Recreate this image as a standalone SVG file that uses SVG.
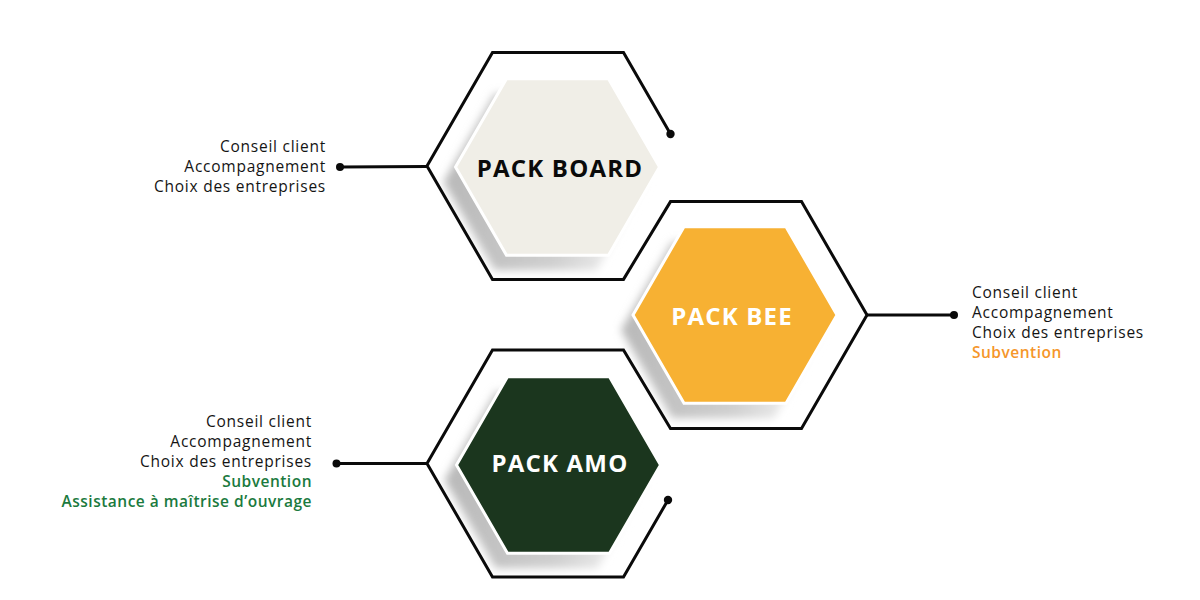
<svg xmlns="http://www.w3.org/2000/svg" width="1200" height="600" viewBox="0 0 1200 600">
  <defs>
    <style>
      .title { font-family: "Open Sans", "Liberation Sans", sans-serif; font-weight: 700; font-size: 24px; letter-spacing: 1.2px; text-anchor: middle; }
      .lbl { font-family: "Open Sans", "Liberation Sans", sans-serif; font-size: 15.5px; letter-spacing: 0.75px; fill: #141414; }
      .r { text-anchor: end; }
      .green { fill: #1b7a3e; font-weight: 600; letter-spacing: 0.5px; }
      .orange { fill: #f5962a; font-weight: 600; letter-spacing: 0.5px; }
      .wire { fill: none; stroke: #0a0a0a; stroke-width: 3; stroke-linejoin: miter; }
      .inner { stroke: #ffffff; stroke-width: 3; }
      .shadow { fill: url(#shadowGrad); filter: url(#blur); }
    </style>
    <linearGradient id="shadowGrad" x1="0" y1="0" x2="1" y2="0">
      <stop offset="0" stop-color="#b8b8b8"/>
      <stop offset="0.55" stop-color="#d0d0d0"/>
      <stop offset="0.92" stop-color="#f6f6f6"/>
    </linearGradient>
    <filter id="blur" x="-20%" y="-20%" width="140%" height="140%">
      <feGaussianBlur stdDeviation="4.5"/>
    </filter>
  </defs>
  <rect width="1200" height="600" fill="#ffffff"/>

  <!-- shadows -->
  <g id="shadows">
    <polygon class="shadow" points="443.5,182 494.5,93.7 596.5,93.7 647.5,182 596.5,270.3 494.5,270.3"/>
    <polygon class="shadow" points="621,330 672,241.7 774,241.7 825,330 774,418.3 672,418.3"/>
    <polygon class="shadow" points="444.5,480 495.5,391.7 597.5,391.7 648.5,480 597.5,568.3 495.5,568.3"/>
  </g>

  <!-- connectors -->
  <g id="connectors">
    <polyline class="wire" points="670.5,134 623.5,52.6 492.5,52.6 427,166 492.5,279.4 623.5,279.4 670.5,201.6 801.5,201.6 867,315 801.5,428.4 670.5,428.4 623.5,350.1 492.5,350.1 427,463.5 492.5,576.9 623.5,576.9 668,500"/>
    <line class="wire" x1="427" y1="166.5" x2="340" y2="167"/>
    <line class="wire" x1="867" y1="315" x2="954" y2="315"/>
    <line class="wire" x1="427" y1="463.5" x2="336" y2="463.5"/>
    <circle cx="670.5" cy="134" r="4.2" fill="#0a0a0a"/>
    <circle cx="668" cy="500" r="4.2" fill="#0a0a0a"/>
    <circle cx="340" cy="167" r="4" fill="#0a0a0a"/>
    <circle cx="954" cy="315" r="4" fill="#0a0a0a"/>
    <circle cx="336.5" cy="463.5" r="4" fill="#0a0a0a"/>
  </g>

  <g id="pack-board">
    <polygon class="inner" fill="#f0eee7" points="455.5,167 506.5,78.7 608.5,78.7 659.5,167 608.5,255.3 506.5,255.3"/>
    <text class="title" x="560" y="177" fill="#0a0a0a">PACK BOARD</text>
    <text class="lbl r" x="326" y="152">Conseil client</text>
    <text class="lbl r" x="326" y="172">Accompagnement</text>
    <text class="lbl r" x="326" y="192">Choix des entreprises</text>
  </g>

  <g id="pack-bee">
    <polygon class="inner" fill="#f7b133" points="633,315 684,226.7 786,226.7 837,315 786,403.3 684,403.3"/>
    <text class="title" x="732" y="325" fill="#ffffff">PACK BEE</text>
    <text class="lbl" x="972" y="298">Conseil client</text>
    <text class="lbl" x="972" y="318">Accompagnement</text>
    <text class="lbl" x="972" y="338">Choix des entreprises</text>
    <text class="lbl orange" x="972" y="358">Subvention</text>
  </g>

  <g id="pack-amo">
    <polygon class="inner" fill="#1b361e" points="456.5,465 507.5,376.7 609.5,376.7 660.5,465 609.5,553.3 507.5,553.3"/>
    <text class="title" x="560" y="472" fill="#ffffff">PACK AMO</text>
    <text class="lbl r" x="312" y="427">Conseil client</text>
    <text class="lbl r" x="312" y="447">Accompagnement</text>
    <text class="lbl r" x="312" y="467">Choix des entreprises</text>
    <text class="lbl r green" x="312" y="487">Subvention</text>
    <text class="lbl r green" x="312" y="507">Assistance à maîtrise d’ouvrage</text>
  </g>
</svg>
